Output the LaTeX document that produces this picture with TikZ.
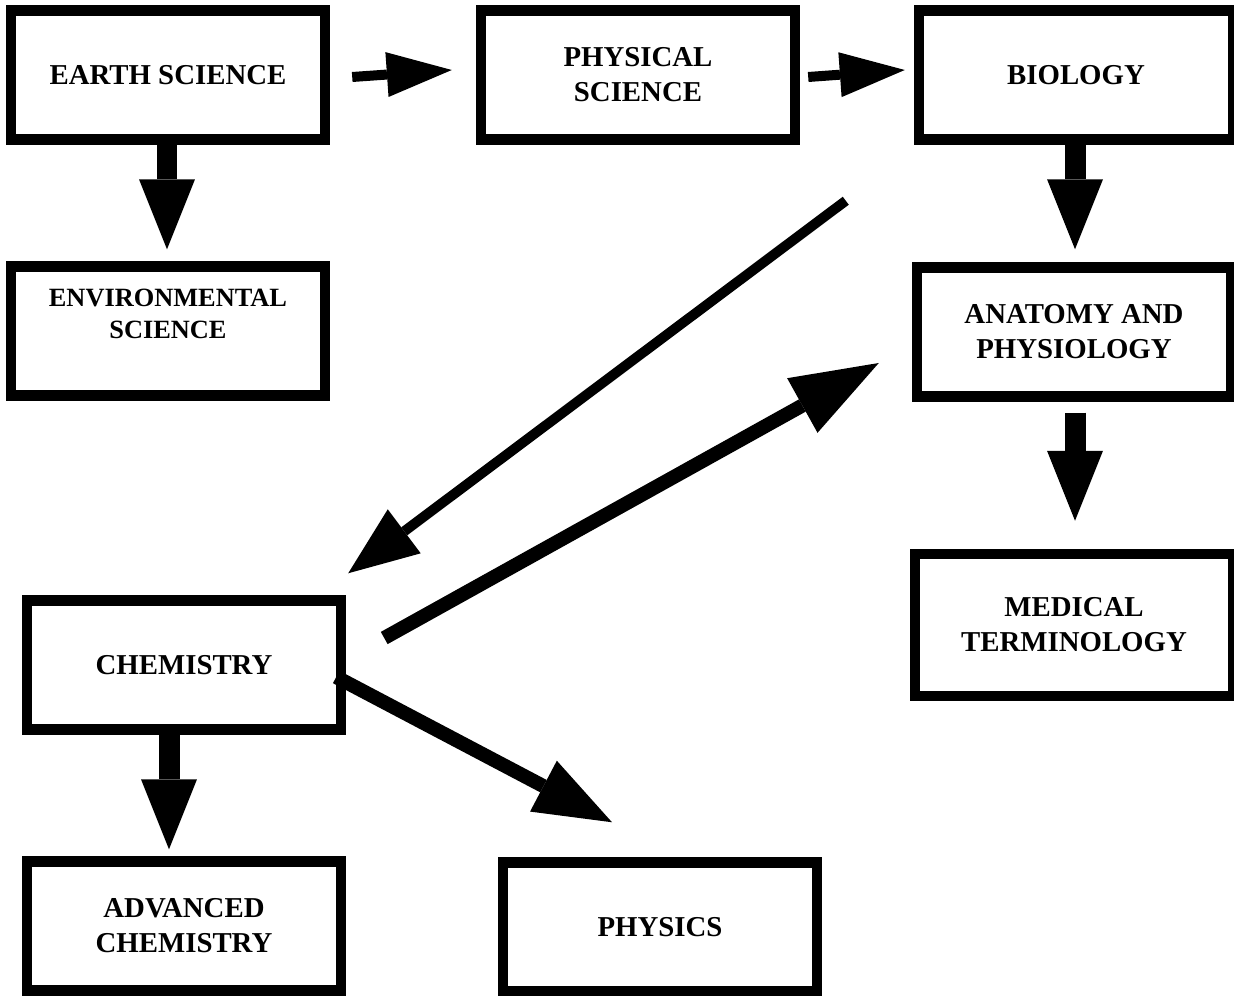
\documentclass[tikz,border=0pt]{standalone}
\usepackage{fontspec}
\setmainfont{Liberation Serif}
\usetikzlibrary{arrows.meta,positioning,calc}

\begin{document}
\begin{tikzpicture}[x=0.02cm, y=-0.02cm,
course/.style={draw, rectangle, line width=0.21cm, inner sep=0pt,
  minimum width=6.28cm, minimum height=2.58cm, align=center,
  font=\bfseries\fontsize{16.4}{20}\selectfont},
flow/.style={line width=0.2cm, -{Triangle[length=1.3cm, width=0.9cm, line width=0pt]}},
down/.style={line width=0.42cm, -{Triangle[length=1.4cm, width=1.12cm, line width=0pt]}},
cross/.style={line width=0.2cm, -{Triangle[length=1.4cm, width=1.1cm, line width=0pt]}},
bold/.style={line width=0.28cm, -{Triangle[length=1.75cm, width=1.25cm, line width=0pt]}},
side/.style={line width=0.28cm, -{Triangle[length=1.55cm, width=1.15cm, line width=0pt]}}]

\useasboundingbox (0,0) rectangle (1234,996);

\node [course] (earth) at (168,75) {EARTH SCIENCE};
\node [course] (phys) at (638,75) {PHYSICAL\\SCIENCE};
\node [course] (bio) at (1076,75) {BIOLOGY};
\node [course, label={[align=center, inner sep=0pt, yshift=0.34cm,
  font=\bfseries\fontsize{15}{18}\selectfont]center:ENVIRONMENTAL\\SCIENCE}] (env) at (168,331) {};
\node [course] (anat) at (1074,332) {ANATOMY AND\\PHYSIOLOGY};
\node [course, minimum width=6.36cm, minimum height=2.84cm] (med) at (1074,625) {MEDICAL\\TERMINOLOGY};
\node [course] (chem) at (184,665) {CHEMISTRY};
\node [course] (adv) at (184,926) {ADVANCED\\CHEMISTRY};
\node [course] (physics) at (660,927) {PHYSICS};

% top row
\draw [flow] ($(earth.east)+(22,2)$) -- ($(phys.west)+(-24,-5)$);
\draw [flow] ($(phys.east)+(8,2)$) -- ($(bio.west)+(-9,-5)$);

% straight down
\draw [down] ($(earth.south)+(-1,0)$) -- ($(env.north)+(-1,-12)$);
\draw [down] ($(bio.south)+(-1,0)$) -- ($(anat.north)+(1,-13)$);
\draw [down] ($(anat.south)+(1,11)$) -- ($(med.north)+(1,-28)$);
\draw [down] ($(chem.south)+(-15,0)$) -- ($(adv.north)+(-15,-7)$);

% diagonals
\draw [cross] ($(bio.south west)+(-68,56)$) -- ($(chem.north east)+(2,-22)$);
\draw [bold] ($(chem.east)+(38,-27)$) -- ($(anat.west)+(-33,31)$);
\draw [side] ($(chem.east)+(-10,12)$) -- ($(physics.north)+(-48,-35)$);

\end{tikzpicture}
\end{document}
